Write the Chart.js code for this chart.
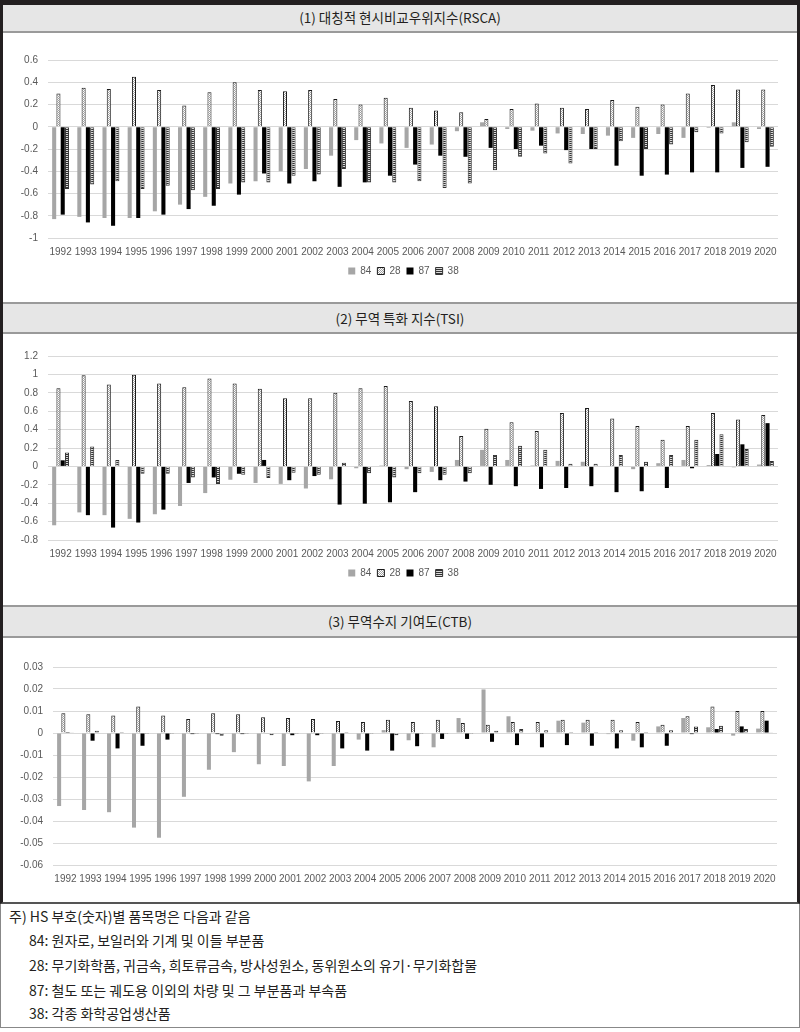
<!DOCTYPE html>
<html>
<head>
<meta charset="utf-8">
<script src="https://cdn.jsdelivr.net/npm/chart.js@4.4.0/dist/chart.umd.min.js"></script>
<style>
  body { margin: 0; background: #fff; }
  #page { position: relative; width: 800px; height: 1032px; overflow: hidden; background: #fff; }
  .frame { position: absolute; left: 0; top: 0; width: 800px; height: 904px; box-sizing: border-box;
           border-left: 3px solid #231f20; border-right: 3px solid #231f20; border-top: 5px solid #231f20;
           border-bottom: 2px solid #555; }
  .hdr { position: absolute; left: 3px; width: 794px; box-sizing: border-box; background: #e6e6e6;
         border-top: 2px solid #9a9a9a; border-bottom: 2px solid #9a9a9a; text-align: center;
         font: 13.5px "Noto Sans CJK KR", sans-serif; color: #231f20; }
  .box { position: absolute; left: 3px; width: 794px; }
  .notes { position: absolute; left: 0; top: 904px; width: 800px; height: 124px; box-sizing: border-box;
           border-left: 1px solid #888; border-right: 1px solid #888; border-bottom: 1px solid #888;
           font: 14px "Noto Sans CJK KR", sans-serif; color: #231f20; }
  .notes div { position: absolute; white-space: nowrap; }
</style>
</head>
<body>
<div id="page">
  <div class="frame"></div>
  <div class="hdr" style="top:5px;height:28px;border-top:none;line-height:25px;">(1) 대칭적 현시비교우위지수(RSCA)</div>
  <div class="box" style="top:33px;height:269px;"><canvas id="chart-rsca"></canvas></div>
  <div class="hdr" style="top:302px;height:32px;line-height:28px;">(2) 무역 특화 지수(TSI)</div>
  <div class="box" style="top:334px;height:271px;"><canvas id="chart-tsi"></canvas></div>
  <div class="hdr" style="top:605px;height:33px;line-height:29px;">(3) 무역수지 기여도(CTB)</div>
  <div class="box" style="top:638px;height:264px;"><canvas id="chart-ctb"></canvas></div>
  <div class="notes">
    <div style="left:8px;top:2px;">주) HS 부호(숫자)별 품목명은 다음과 같음</div>
    <div style="left:28px;top:26px;">84: 원자로, 보일러와 기계 및 이들 부분품</div>
    <div style="left:28px;top:51px;">28: 무기화학품, 귀금속, 희토류금속, 방사성원소, 동위원소의 유기·무기화합물</div>
    <div style="left:28px;top:76px;">87: 철도 또는 궤도용 이외의 차량 및 그 부분품과 부속품</div>
    <div style="left:28px;top:99px;">38: 각종 화학공업생산품</div>
  </div>
</div>
<script>
const years = ['1992','1993','1994','1995','1996','1997','1998','1999','2000','2001','2002','2003','2004','2005',
  '2006','2007','2008','2009','2010','2011','2012','2013','2014','2015','2016','2017','2018','2019','2020'];
const seriesNames = ['84', '28', '87', '38'];

// (1) RSCA
const rsca84 = [-0.83,-0.81,-0.82,-0.82,-0.76,-0.70,-0.63,-0.51,-0.49,-0.40,-0.38,-0.26,-0.12,-0.15,
  -0.19,-0.16,-0.04,0.04,-0.02,-0.035,-0.06,-0.065,-0.08,-0.10,-0.065,-0.10,-0.01,0.04,-0.02];
const rsca28 = [0.30,0.35,0.34,0.45,0.33,0.19,0.31,0.40,0.33,0.32,0.33,0.25,0.20,0.26,
  0.17,0.145,0.13,0.07,0.16,0.21,0.17,0.16,0.24,0.18,0.20,0.30,0.375,0.335,0.335];
const rsca87 = [-0.79,-0.86,-0.89,-0.82,-0.79,-0.74,-0.71,-0.61,-0.42,-0.51,-0.49,-0.54,-0.50,-0.44,
  -0.34,-0.26,-0.27,-0.19,-0.20,-0.17,-0.21,-0.20,-0.35,-0.44,-0.43,-0.41,-0.41,-0.37,-0.36];
const rsca38 = [-0.56,-0.52,-0.49,-0.56,-0.53,-0.57,-0.56,-0.50,-0.50,-0.44,-0.43,-0.38,-0.50,-0.50,
  -0.49,-0.55,-0.51,-0.39,-0.27,-0.24,-0.33,-0.20,-0.13,-0.20,-0.16,-0.05,-0.06,-0.14,-0.18];

// (2) TSI
const tsi84 = [-0.64,-0.50,-0.53,-0.57,-0.52,-0.43,-0.29,-0.145,-0.18,-0.19,-0.24,-0.14,-0.02,0.01,
  -0.03,-0.06,0.07,0.18,0.07,0.01,0.06,0.05,0.005,-0.03,0.035,0.07,0.015,-0.01,0.02];
const tsi28 = [0.85,0.99,0.89,0.995,0.90,0.86,0.955,0.90,0.845,0.74,0.74,0.80,0.85,0.875,
  0.71,0.655,0.33,0.41,0.48,0.385,0.58,0.635,0.52,0.44,0.29,0.44,0.58,0.51,0.56];
const tsi87 = [0.066,-0.53,-0.665,-0.61,-0.47,-0.18,-0.12,-0.08,0.07,-0.15,-0.105,-0.415,-0.405,-0.39,
  -0.28,-0.15,-0.165,-0.20,-0.215,-0.245,-0.235,-0.215,-0.28,-0.27,-0.235,-0.02,0.135,0.24,0.47];
const tsi38 = [0.15,0.215,0.07,-0.08,-0.08,-0.12,-0.19,-0.09,-0.125,-0.07,-0.09,0.04,-0.075,-0.12,
  -0.075,-0.09,-0.075,0.125,0.225,0.18,0.03,0.03,0.125,0.05,0.125,0.29,0.35,0.19,0.06];

// (3) CTB
const ctb84 = [-0.0332,-0.035,-0.036,-0.043,-0.0476,-0.029,-0.0167,-0.0087,-0.0142,-0.015,-0.022,-0.015,-0.003,0.0013,
  -0.0033,-0.0065,0.0068,0.0198,0.0076,0.0002,0.0056,0.0047,-0.0005,-0.0035,0.003,0.0068,0.0026,-0.0012,0.002];
const ctb28 = [0.009,0.0085,0.008,0.012,0.008,0.0064,0.009,0.0085,0.0072,0.0068,0.0064,0.0055,0.005,0.006,
  0.005,0.006,0.0045,0.0038,0.005,0.005,0.006,0.006,0.006,0.005,0.0038,0.0076,0.012,0.01,0.01];
const ctb87 = [0.0004,-0.0035,-0.007,-0.0058,-0.003,-0.0005,-0.0005,-0.0005,-0.0002,-0.001,-0.001,-0.007,-0.008,-0.008,
  -0.006,-0.0027,-0.0027,-0.004,-0.0055,-0.0065,-0.0055,-0.0058,-0.007,-0.0065,-0.0058,-0.0005,0.0018,0.003,0.0056];
const ctb38 = [0.0003,0.001,0.0005,-0.0005,-0.0005,-0.0005,-0.0013,-0.0005,-0.001,-0.0005,-0.0005,0.0005,-0.0005,-0.001,
  -0.0005,-0.0005,-0.0005,0.001,0.0018,0.0013,0.0005,0.0005,0.0013,0.0005,0.0013,0.003,0.0033,0.0018,0.0003];

const TICK_COLOR = '#595959';
const GRID_COLOR = '#d9d9d9';
const FONT = 'Liberation Sans';

function makePattern(w, h, draw) {
  const c = document.createElement('canvas');
  c.width = w; c.height = h;
  const g = c.getContext('2d');
  draw(g);
  return g.createPattern(c, 'repeat');
}
const DOTS = makePattern(2, 2, (g) => {
  g.fillStyle = '#ffffff'; g.fillRect(0, 0, 2, 2);
  g.fillStyle = '#a0a0a0'; g.fillRect(0, 0, 1, 1); g.fillRect(1, 1, 1, 1);
});
const STRIPES = makePattern(1, 2, (g) => {
  g.fillStyle = '#d8d8d8'; g.fillRect(0, 0, 1, 2);
  g.fillStyle = '#333333'; g.fillRect(0, 0, 1, 1);
});

function datasets(a, b, c, d) {
  return [
    { label: seriesNames[0], data: a, backgroundColor: '#a6a6a6', borderWidth: 0 },
    { label: seriesNames[1], data: b, backgroundColor: DOTS, borderColor: '#1a1a1a', borderWidth: 1 },
    { label: seriesNames[2], data: c, backgroundColor: '#000000', borderWidth: 0 },
    { label: seriesNames[3], data: d, backgroundColor: STRIPES, borderColor: '#333333', borderWidth: 1 },
  ];
}

// Excel-style tick text: "1", "-1", "0.6", "0.03"
const tickText = (v) => String(Math.round(v * 1000) / 1000);

// the reference legend sits a little right of the plot's centre
const legendShift = {
  id: 'legendShift',
  afterLayout(chart) {
    if (chart.legend && chart.options.plugins.legend.display) {
      chart.legend.left += 13;
      chart.legend.right += 13;
    }
  },
};

function render(id, data, opt) {
  new Chart(document.getElementById(id), {
    type: 'bar',
    data: { labels: years, datasets: data },
    plugins: [legendShift],
    options: {
      responsive: true,
      maintainAspectRatio: false,
      animation: false,
      datasets: { bar: { categoryPercentage: 0.68, barPercentage: 0.95 } },
      layout: { padding: opt.padding },
      plugins: {
        legend: {
          display: opt.legend,
          position: 'bottom',
          labels: { boxWidth: 7, boxHeight: 7, padding: 6, color: TICK_COLOR, font: { family: FONT, size: 10 } },
        },
        tooltip: { enabled: false },
      },
      scales: {
        x: {
          grid: { display: false, drawTicks: false },
          border: { display: false },
          ticks: { color: TICK_COLOR, font: { family: FONT, size: opt.xFont }, padding: 8, autoSkip: false, maxRotation: 0, minRotation: 0 },
          afterFit: (s) => { s.height = 22; },
        },
        y: {
          min: opt.min, max: opt.max,
          grid: { color: GRID_COLOR, drawTicks: false },
          border: { display: false },
          ticks: { stepSize: opt.step, color: TICK_COLOR, font: { family: FONT, size: 10 }, padding: 10, callback: tickText },
          afterFit: (s) => { s.width = opt.yWidth; },
        },
      },
    },
  });
}

render('chart-rsca', datasets(rsca84, rsca28, rsca87, rsca38),
  { min: -1, max: 0.6, step: 0.2, legend: true, xFont: 10, yWidth: 45,
    padding: { top: 27, bottom: 16, right: 19, left: 0 } });
render('chart-tsi', datasets(tsi84, tsi28, tsi87, tsi38),
  { min: -0.8, max: 1.2, step: 0.2, legend: true, xFont: 10, yWidth: 45,
    padding: { top: 22, bottom: 17, right: 19, left: 0 } });
render('chart-ctb', datasets(ctb84, ctb28, ctb87, ctb38),
  { min: -0.06, max: 0.03, step: 0.01, legend: false, xFont: 10, yWidth: 50,
    padding: { top: 29, bottom: 15, right: 20, left: 0 } });
</script>
</body>
</html>
